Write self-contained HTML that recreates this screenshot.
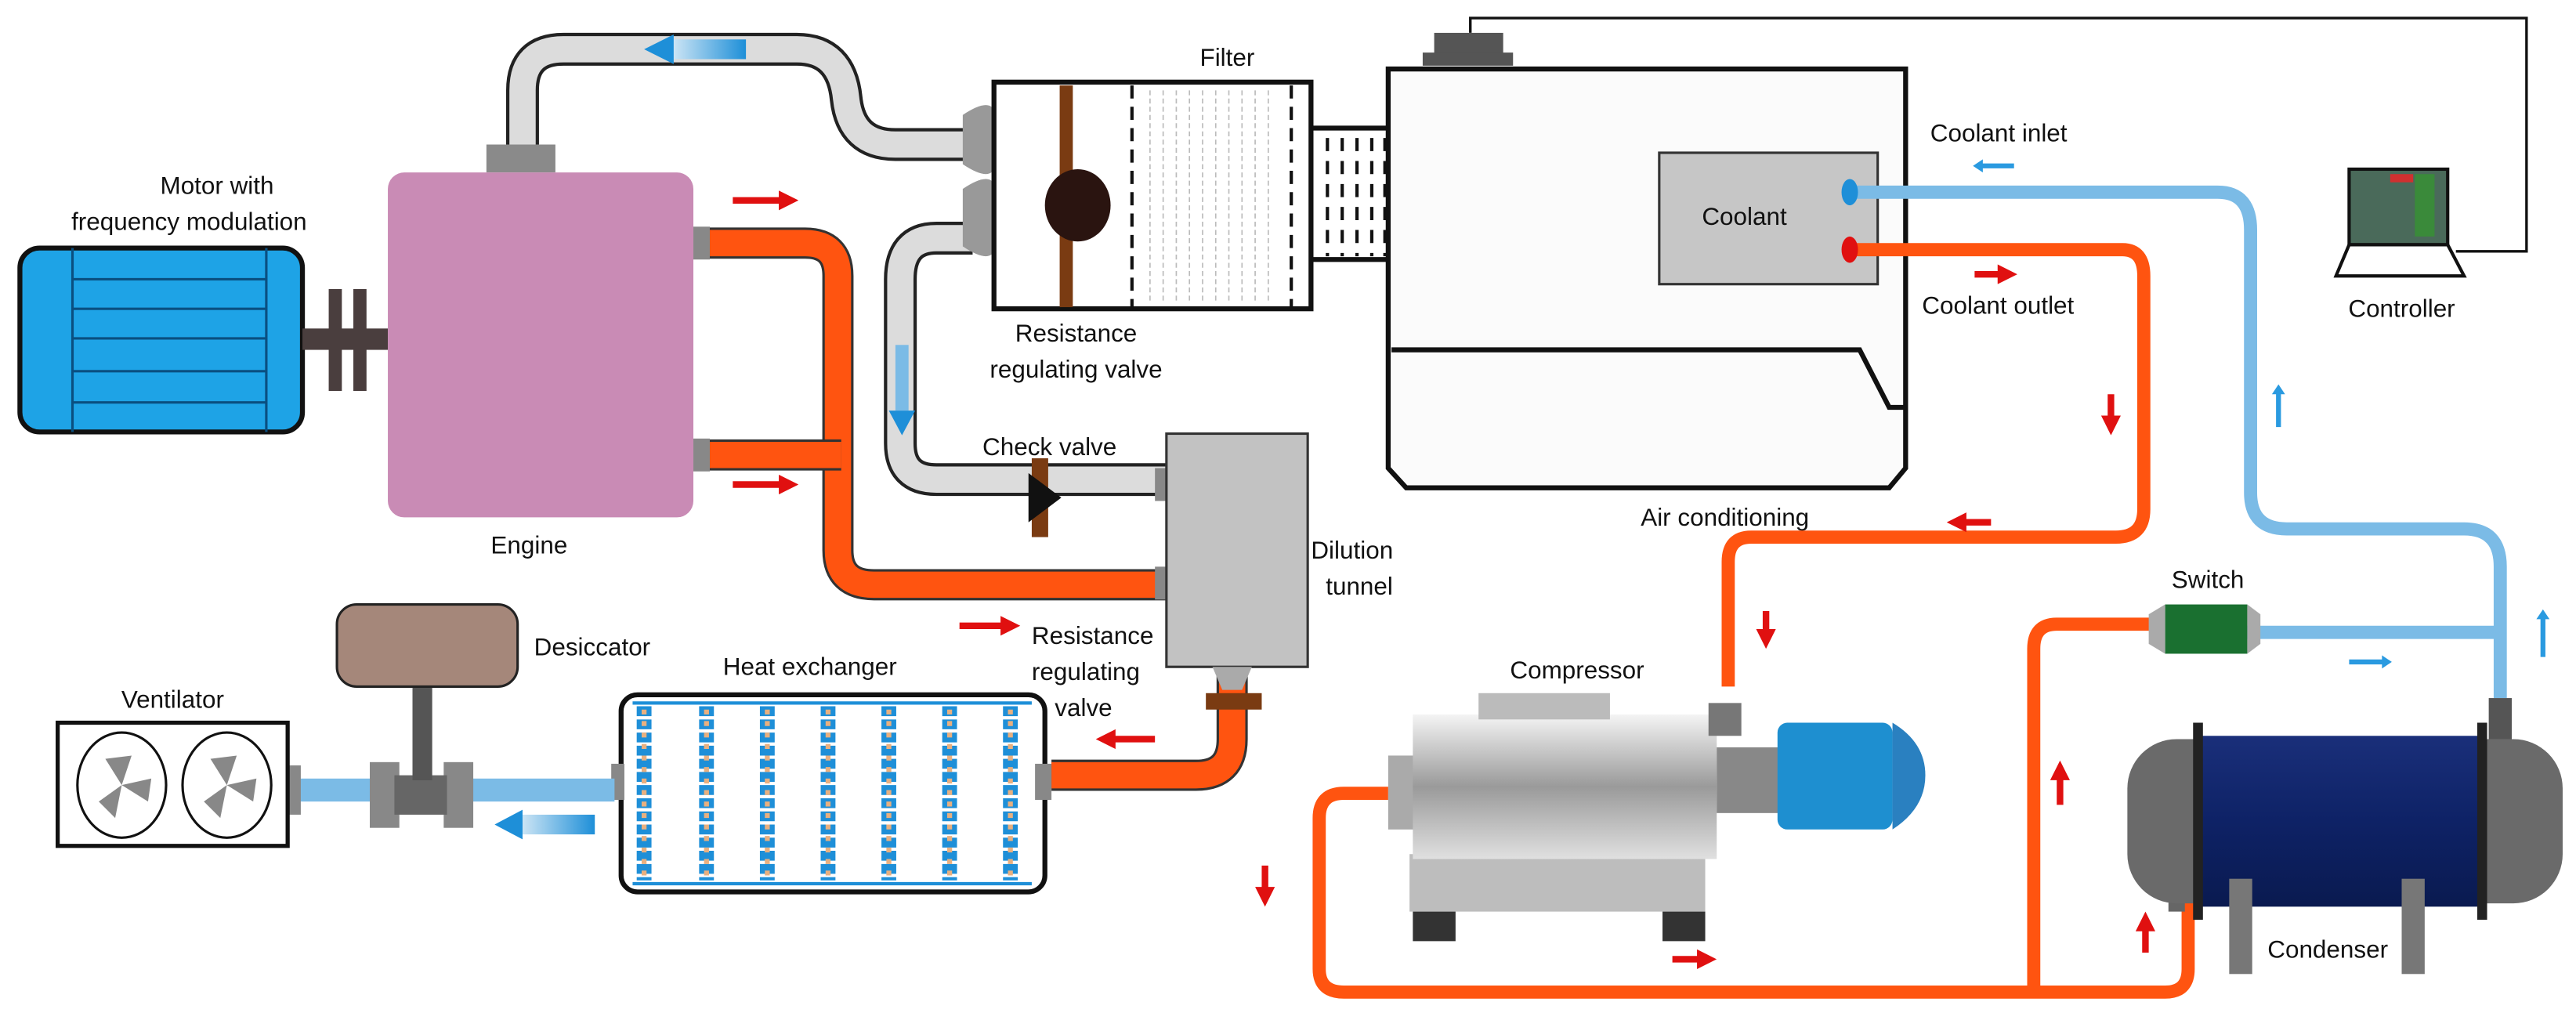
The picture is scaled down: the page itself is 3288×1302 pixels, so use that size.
<!DOCTYPE html>
<html><head><meta charset="utf-8"><style>
html,body{margin:0;padding:0;background:#fff;}
svg{display:block;}
text{font-family:"Liberation Sans",sans-serif;font-size:15px;fill:#111;}
</style></head><body>
<svg width="3288" height="1302" viewBox="0 0 1568 621" xmlns="http://www.w3.org/2000/svg">
<defs>
<marker id="ra" markerWidth="3" markerHeight="3" refX="1.5" refY="1.5" orient="auto"><path d="M0,0 L3,1.5 L0,3z" fill="#e01010"/></marker>
<linearGradient id="bg" x1="0" x2="1"><stop offset="0" stop-color="#1e8fd8"/><stop offset="1" stop-color="#cfe6f5"/></linearGradient>
<linearGradient id="cg" x1="0" y1="0" x2="0" y2="1"><stop offset="0" stop-color="#f4f4f4"/><stop offset=".5" stop-color="#9a9a9a"/><stop offset="1" stop-color="#e0e0e0"/></linearGradient>
<linearGradient id="cyl" x1="0" y1="0" x2="0" y2="1"><stop offset="0" stop-color="#1a2f7a"/><stop offset=".5" stop-color="#0e2266"/><stop offset="1" stop-color="#0a1a50"/></linearGradient>
</defs>

<path d="M895,20 V11 H1538 V153 H1495" fill="none" stroke="#111" stroke-width="1.6"/>

<path d="M318,92 V55 Q318,30 343,30 H485 Q512,30 515,60 Q518,88 545,88 H592" fill="none" stroke="#222" stroke-width="20"/>
<path d="M318,92 V55 Q318,30 343,30 H485 Q512,30 515,60 Q518,88 545,88 H592" fill="none" stroke="#dcdcdc" stroke-width="16"/>
<path d="M592,145 H570 Q548,145 548,170 V270 Q548,292 570,292 H712" fill="none" stroke="#222" stroke-width="20"/>
<path d="M592,145 H570 Q548,145 548,170 V270 Q548,292 570,292 H712" fill="none" stroke="#dcdcdc" stroke-width="16"/>
<rect x="410" y="24" width="45" height="12" fill="url(#bg)" transform="rotate(180 432 30)"/>
<path d="M392,30 L410,21 V39z" fill="#1e8fd8"/>
<rect x="545" y="210" width="8" height="40" fill="#7bbbe6"/>
<path d="M541,250 L557,250 L549,265z" fill="#1e8fd8"/>
<rect x="628" y="279" width="10" height="48" fill="#7a3b12"/>
<path d="M626,288 L646,303 L626,318z" fill="#111"/>

<path d="M430,148 H490 Q510,148 510,168 V335 Q510,356 532,356 H710" fill="none" stroke="#333" stroke-width="19"/>
<path d="M430,148 H490 Q510,148 510,168 V335 Q510,356 532,356 H710" fill="none" stroke="#ff5410" stroke-width="16"/>
<path d="M430,277 H512" stroke="#333" stroke-width="19"/>
<path d="M430,277 H512" stroke="#ff5410" stroke-width="16"/>
<path d="M750,410 V450 Q750,472 728,472 H640" fill="none" stroke="#333" stroke-width="19"/>
<path d="M750,410 V450 Q750,472 728,472 H640" fill="none" stroke="#ff5410" stroke-width="16"/>
<rect x="734" y="422" width="34" height="10" fill="#7a3b12"/>

<rect x="12" y="151" width="172" height="112" rx="12" fill="#1ea3e6" stroke="#111" stroke-width="3"/>
<g stroke="#0a4f80" stroke-width="1.5"><line x1="44" y1="151" x2="44" y2="263"/><line x1="162" y1="151" x2="162" y2="263"/>
<line x1="44" y1="170" x2="162" y2="170"/><line x1="44" y1="188" x2="162" y2="188"/><line x1="44" y1="206" x2="162" y2="206"/><line x1="44" y1="226" x2="162" y2="226"/><line x1="44" y1="245" x2="162" y2="245"/></g>
<rect x="184" y="200" width="52" height="13" fill="#4a3e3e"/>
<rect x="200" y="176" width="8" height="62" fill="#4a3e3e"/><rect x="215" y="176" width="8" height="62" fill="#4a3e3e"/>
<text x="132" y="118" text-anchor="middle">Motor with</text>
<text x="115" y="140" text-anchor="middle">frequency modulation</text>

<rect x="296" y="88" width="42" height="17" fill="#8a8a8a"/>
<rect x="236" y="105" width="186" height="210" rx="10" fill="#c98bb5"/>
<rect x="422" y="138" width="10" height="20" fill="#888"/><rect x="422" y="267" width="10" height="20" fill="#888"/>
<text x="322" y="337" text-anchor="middle">Engine</text>

<path d="M586,70 Q604,58 606,70 V100 Q604,112 586,100z" fill="#999"/>
<path d="M586,115 Q604,103 606,115 V150 Q604,162 586,150z" fill="#999"/>
<rect x="605" y="50" width="193" height="138" fill="#fff" stroke="#111" stroke-width="3"/>
<rect x="645" y="52" width="8" height="135" fill="#7a3b12"/>
<ellipse cx="656" cy="125" rx="20" ry="22" fill="#2a1410"/>
<line x1="689" y1="52" x2="689" y2="187" stroke="#111" stroke-width="2" stroke-dasharray="8,5"/>
<line x1="786" y1="52" x2="786" y2="187" stroke="#111" stroke-width="2" stroke-dasharray="8,5"/>
<g stroke="#bbb" stroke-width="0.8" stroke-dasharray="3,2">
<line x1="700" y1="55" x2="700" y2="185"/><line x1="708" y1="55" x2="708" y2="185"/><line x1="716" y1="55" x2="716" y2="185"/><line x1="724" y1="55" x2="724" y2="185"/><line x1="732" y1="55" x2="732" y2="185"/><line x1="740" y1="55" x2="740" y2="185"/><line x1="748" y1="55" x2="748" y2="185"/><line x1="756" y1="55" x2="756" y2="185"/><line x1="764" y1="55" x2="764" y2="185"/><line x1="772" y1="55" x2="772" y2="185"/></g>
<text x="747" y="40" text-anchor="middle">Filter</text>
<text x="655" y="208" text-anchor="middle">Resistance</text>
<text x="655" y="230" text-anchor="middle">regulating valve</text>
<text x="598" y="277">Check valve</text>

<path d="M798,78 H845 M798,158 H845" stroke="#111" stroke-width="3"/>
<g stroke="#111" stroke-width="2" stroke-dasharray="8,6"><line x1="808" y1="84" x2="808" y2="156"/><line x1="817" y1="84" x2="817" y2="156"/><line x1="826" y1="84" x2="826" y2="156"/><line x1="835" y1="84" x2="835" y2="156"/><line x1="843" y1="84" x2="843" y2="156"/></g>

<rect x="873" y="20" width="42" height="14" fill="#555"/><rect x="866" y="32" width="55" height="8" fill="#555"/>
<path d="M845,42 H1160 V285 L1150,297 H856 L845,285z" fill="#fbfbfb" stroke="#111" stroke-width="3"/>
<path d="M847,213 H1132 L1150,248 H1160" fill="none" stroke="#111" stroke-width="3"/>
<rect x="1010" y="93" width="133" height="80" fill="#c6c6c6" stroke="#333" stroke-width="1.5"/>
<text x="1036" y="137">Coolant</text>
<text x="1050" y="320" text-anchor="middle">Air conditioning</text>

<path d="M1128,117 H1350 Q1370,117 1370,140 V300 Q1370,322 1392,322 H1500 Q1522,322 1522,345 V425" fill="none" stroke="#7bbbe6" stroke-width="8"/>
<path d="M1128,152 H1292 Q1305,152 1305,168 V310 Q1305,327 1288,327 H1066 Q1052,327 1052,342 V418" fill="none" stroke="#ff5410" stroke-width="8"/>
<ellipse cx="1126" cy="117" rx="5" ry="8" fill="#1e8fd8"/>
<ellipse cx="1126" cy="152" rx="5" ry="8" fill="#e01010"/>
<text x="1175" y="86">Coolant inlet</text>
<text x="1170" y="191">Coolant outlet</text>

<rect x="1430" y="103" width="60" height="46" fill="#4a6a5a" stroke="#111" stroke-width="2"/>
<rect x="1470" y="106" width="12" height="38" fill="#3a8a3a"/>
<rect x="1455" y="106" width="14" height="5" fill="#d03030"/>
<path d="M1430,149 L1422,168 H1500 L1490,149z" fill="#fff" stroke="#111" stroke-width="2"/>
<text x="1462" y="193" text-anchor="middle">Controller</text>

<rect x="703" y="285" width="8" height="20" fill="#888"/><rect x="703" y="345" width="8" height="20" fill="#888"/>
<rect x="710" y="264" width="86" height="142" fill="#c2c2c2" stroke="#333" stroke-width="1.5"/>
<path d="M738,406 H762 L756,420 H744z" fill="#aaa"/>
<text x="798" y="340">Dilution</text>
<text x="807" y="362">tunnel</text>
<text x="628" y="392">Resistance</text>
<text x="628" y="414">regulating</text>
<text x="642" y="436">valve</text>

<rect x="378" y="423" width="258" height="120" rx="10" fill="#fff" stroke="#111" stroke-width="3"/>
<rect x="630" y="465" width="10" height="22" fill="#888"/><rect x="372" y="465" width="8" height="22" fill="#888"/>
<g stroke="#1e8fd8" stroke-width="9" stroke-dasharray="6,2">
<line x1="392" y1="430" x2="392" y2="536"/><line x1="430" y1="430" x2="430" y2="536"/><line x1="467" y1="430" x2="467" y2="536"/><line x1="504" y1="430" x2="504" y2="536"/><line x1="541" y1="430" x2="541" y2="536"/><line x1="578" y1="430" x2="578" y2="536"/><line x1="615" y1="430" x2="615" y2="536"/></g>
<g stroke="#e8b080" stroke-width="3" stroke-dasharray="3,4"><line x1="392" y1="432" x2="392" y2="534"/><line x1="430" y1="432" x2="430" y2="534"/><line x1="467" y1="432" x2="467" y2="534"/><line x1="504" y1="432" x2="504" y2="534"/><line x1="541" y1="432" x2="541" y2="534"/><line x1="578" y1="432" x2="578" y2="534"/><line x1="615" y1="432" x2="615" y2="534"/></g>
<line x1="385" y1="428" x2="628" y2="428" stroke="#1e8fd8" stroke-width="2"/><line x1="385" y1="538" x2="628" y2="538" stroke="#1e8fd8" stroke-width="2"/>
<text x="440" y="411">Heat exchanger</text>

<rect x="178" y="474" width="196" height="14" fill="#7bbbe6"/>
<rect x="175" y="466" width="8" height="30" fill="#888"/>
<rect x="225" y="464" width="18" height="40" fill="#888"/><rect x="270" y="464" width="18" height="40" fill="#888"/>
<rect x="240" y="472" width="32" height="24" fill="#666"/>
<rect x="251" y="417" width="12" height="58" fill="#555"/>
<rect x="205" y="368" width="110" height="50" rx="12" fill="#a5877a" stroke="#222" stroke-width="1.5"/>
<text x="325" y="399">Desiccator</text>
<rect x="35" y="440" width="140" height="75" fill="#fff" stroke="#111" stroke-width="2.5"/>
<ellipse cx="74" cy="478" rx="27" ry="32" fill="none" stroke="#111" stroke-width="1.5"/>
<ellipse cx="138" cy="478" rx="27" ry="32" fill="none" stroke="#111" stroke-width="1.5"/>
<g fill="#888"><path d="M74,478 L64,462 L80,460z M74,478 L92,474 L90,488z M74,478 L70,498 L60,488z"/><path d="M138,478 L128,462 L144,460z M138,478 L156,474 L154,488z M138,478 L134,498 L124,488z"/></g>
<text x="105" y="431" text-anchor="middle">Ventilator</text>
<rect x="318" y="496" width="45" height="12" fill="url(#bg)" transform="rotate(180 340 502)"/>
<path d="M301,502 L318,493 V511z" fill="#1e8fd8"/>

<path d="M845,483 H818 Q803,483 803,498 V590 Q803,604 818,604 H1318 Q1332,604 1332,590 V548" fill="none" stroke="#ff5410" stroke-width="8"/>
<path d="M1312,380 H1252 Q1238,380 1238,395 V604" fill="none" stroke="#ff5410" stroke-width="8"/>
<path d="M1365,385 H1522" stroke="#7bbbe6" stroke-width="8"/>
<rect x="1318" y="368" width="50" height="30" fill="#1a7030"/>
<path d="M1318,368 L1308,374 V392 L1318,398z M1368,368 L1376,374 V392 L1368,398z" fill="#aaa"/>
<text x="1344" y="358" text-anchor="middle">Switch</text>

<rect x="858" y="520" width="180" height="35" fill="#bdbdbd"/>
<rect x="860" y="555" width="26" height="18" fill="#333"/><rect x="1012" y="555" width="26" height="18" fill="#333"/>
<rect x="845" y="460" width="20" height="45" fill="#aaa"/>
<rect x="860" y="435" width="185" height="88" fill="url(#cg)"/>
<rect x="900" y="422" width="80" height="16" fill="#bbb"/>
<rect x="1040" y="428" width="20" height="20" fill="#777"/>
<rect x="1045" y="455" width="40" height="40" fill="#888"/>
<rect x="1082" y="440" width="70" height="65" rx="6" fill="#1e8fd0"/>
<path d="M1152,440 Q1172,452 1172,472 Q1172,492 1152,505z" fill="#2a80c0"/>
<text x="960" y="413" text-anchor="middle">Compressor</text>

<rect x="1320" y="545" width="10" height="10" fill="#666"/>
<rect x="1515" y="425" width="14" height="25" fill="#555"/>
<rect x="1295" y="450" width="265" height="100" rx="30" fill="#6a6a6a"/>
<rect x="1340" y="448" width="170" height="104" fill="url(#cyl)"/>
<rect x="1335" y="440" width="6" height="120" fill="#222"/><rect x="1508" y="440" width="6" height="120" fill="#222"/>
<rect x="1357" y="535" width="14" height="58" fill="#777"/><rect x="1462" y="535" width="14" height="58" fill="#777"/>
<text x="1417" y="583" text-anchor="middle">Condenser</text>

<g stroke="#e01010" stroke-width="4" marker-end="url(#ra)" fill="none">
<path d="M446,122 H480"/><path d="M446,295 H480"/><path d="M584,381 H615"/><path d="M703,450 H673"/>
<path d="M1202,167 H1222"/><path d="M1285,240 V259"/><path d="M1212,318 H1191"/><path d="M1075,372 V389"/>
<path d="M770,527 V546"/><path d="M1018,584 H1039"/><path d="M1254,490 V469"/><path d="M1306,580 V561"/></g>
<g stroke="#2a9ae0" stroke-width="3" fill="none">
<path d="M1226,101 H1204"/><path d="M1387,260 V238"/><path d="M1430,403 H1452"/><path d="M1548,400 V375"/></g>
<g fill="#2a9ae0"><path d="M1201,101 l6,-4 v8z"/><path d="M1387,234 l-4,6 h8z"/><path d="M1456,403 l-6,-4 v8z"/><path d="M1548,371 l-4,6 h8z"/></g>
</svg>
</body></html>
